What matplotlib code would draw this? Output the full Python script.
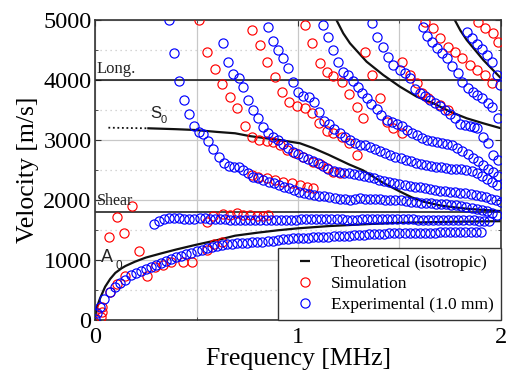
import matplotlib
matplotlib.use("Agg")
import matplotlib.pyplot as plt
from matplotlib.lines import Line2D
from matplotlib.ticker import MultipleLocator

plt.rcParams['font.family'] = ['Liberation Serif', 'DejaVu Serif']

# ---------------- data (frequency MHz, velocity m/s) ----------------
th_a0 = [(0.0,0),(0.005,160),(0.01,225),(0.025,367),(0.05,560),(0.075,690),(0.1,790),(0.131,867),
         (0.15,905),(0.197,977),(0.25,1045),(0.328,1117),(0.4,1180),(0.493,1255),(0.6,1335),
         (0.69,1410),(0.8,1460),(0.9,1500),(1.0,1533),(1.15,1570),(1.355,1605),(1.5,1625),
         (1.75,1642),(2.0,1652)]
th_s0_low = [(0.066,3210),(0.263,3200)]
th_s0 = [(0.263,3200),(0.4,3185),(0.493,3172),(0.6,3140),(0.69,3117),(0.763,3070),(0.85,3030),
         (0.91,3005),(1.01,2950),(1.075,2870),(1.15,2760),(1.25,2600),(1.32,2500),(1.42,2290),
         (1.5,2150),(1.56,2050),(1.62,1975),(1.7,1915),(1.75,1890),(1.83,1860),(1.91,1840),(2.0,1820)]
th_a1 = [(1.19,5000),(1.223,4783),(1.256,4617),(1.338,4310),(1.42,4088),(1.502,3894),(1.585,3727),
         (1.667,3617),(1.749,3477),(1.831,3367),(1.913,3283),(2.0,3200)]
th_a2 = [(1.773,5000),(1.8,4830),(1.831,4672),(1.913,4338),(2.0,4033)]
long_vel = 4000
shear_vel = 1810

exp_a0 = [(0.0,30),(0.012,130),(0.025,230),(0.044,350),(0.074,480),(0.1,560),(0.125,630),(0.15,680),
          (0.175,750),(0.2,795),(0.225,830),(0.25,860),(0.275,890),(0.3,930),(0.325,957),(0.35,990),
          (0.375,1020),(0.4,1048),(0.425,1075),(0.45,1100),(0.475,1126),(0.5,1155),(0.525,1177),
          (0.55,1200),(0.575,1222),(0.6,1238),(0.625,1255),(0.65,1266),(0.675,1276),(0.7,1283),
          (0.725,1290),(0.75,1296),(0.775,1300),(0.8,1306),(0.825,1312),(0.85,1320),(0.875,1330),
          (0.9,1338),(0.925,1348),(0.95,1356),(0.975,1364),(1.0,1370),(1.025,1374),(1.05,1379),
          (1.075,1384),(1.1,1387),(1.125,1391),(1.15,1394),(1.175,1398),(1.2,1403),(1.225,1407),
          (1.25,1412),(1.275,1416),(1.3,1424),(1.325,1428),(1.35,1432),(1.375,1436),(1.4,1440),
          (1.425,1444),(1.45,1447),(1.475,1450),(1.5,1453),(1.525,1455),(1.55,1457),(1.575,1459),
          (1.6,1460),(1.625,1461),(1.65,1462),(1.675,1463),(1.7,1464),(1.725,1465),(1.75,1466),
          (1.775,1466),(1.8,1467),(1.825,1467),(1.85,1467),(1.875,1467),(1.9,1467)]
exp_sh = [(0.292,1600),(0.316,1655),(0.34,1683),(0.365,1700),(0.39,1700),(0.415,1700),(0.44,1690),
          (0.465,1683),(0.49,1695),(0.515,1705),(0.54,1700),(0.565,1695),(0.59,1690),(0.615,1685),
          (0.64,1685),(0.665,1680),(0.69,1678),(0.715,1675),(0.74,1672),(0.765,1672),(0.79,1670),
          (0.815,1668),(0.84,1665),(0.865,1665),(0.89,1668),(0.915,1670),(0.94,1675),(0.965,1678),
          (0.99,1680),(1.015,1682),(1.04,1683),(1.065,1685),(1.09,1686),(1.115,1686),(1.14,1685),
          (1.165,1684),(1.19,1683),(1.215,1682),(1.24,1680),(1.265,1680),(1.29,1680),(1.315,1682),
          (1.34,1684),(1.365,1686),(1.39,1688),(1.415,1690),(1.44,1690),(1.465,1689),(1.49,1688),
          (1.515,1686),(1.54,1684),(1.565,1682),(1.59,1680),(1.615,1678),(1.64,1676),(1.665,1675),
          (1.69,1674),(1.715,1673),(1.74,1672),(1.765,1671),(1.79,1670),(1.815,1668),(1.84,1666),
          (1.865,1664),(1.89,1662),(1.915,1660),(1.94,1658)]
exp_s0 = [(0.365,5000),(0.39,4460),(0.414,3990),(0.437,3680),(0.463,3440),(0.486,3240),(0.512,3145),
          (0.534,3100),(0.557,2995),(0.58,2855),(0.609,2725),(0.636,2625),(0.66,2565),(0.683,2560),
          (0.707,2560),(0.73,2505),(0.755,2450),(0.78,2393),(0.805,2367),(0.83,2338),(0.855,2310),
          (0.88,2283),(0.905,2255),(0.93,2227),(0.955,2202),(0.98,2175),(1.005,2145),(1.03,2125),
          (1.055,2105),(1.08,2090),(1.105,2077),(1.13,2064),(1.155,2052),(1.18,2040),(1.205,2028),
          (1.23,2017),(1.255,2010),(1.28,2030),(1.305,2033),(1.33,2030),(1.355,2027),(1.38,2022),
          (1.405,2018),(1.43,2012),(1.455,2008),(1.48,2003),(1.505,1998),(1.53,1988),(1.555,1978),
          (1.58,1965),(1.605,1955),(1.63,1950),(1.655,1948),(1.68,1945),(1.705,1940),(1.73,1935),
          (1.755,1930),(1.78,1918),(1.805,1905),(1.83,1893),(1.855,1880),(1.88,1862),(1.905,1842),
          (1.93,1815),(1.955,1785),(1.98,1750)]
exp_a1 = [(0.632,4617),(0.657,4300),(0.681,4100),(0.708,4033),(0.731,3883),(0.755,3672),(0.78,3505),
          (0.805,3367),(0.83,3220),(0.854,3117),(0.879,3060),(0.903,3000),(0.928,2935),(0.952,2870),
          (0.977,2810),(1.001,2770),(1.026,2727),(1.05,2695),(1.075,2655),(1.1,2615),(1.125,2565),
          (1.15,2525),(1.175,2495),(1.2,2475),(1.225,2462),(1.25,2448),(1.275,2433),(1.3,2422),
          (1.325,2405),(1.35,2390),(1.375,2365),(1.4,2343),(1.425,2322),(1.45,2303),(1.475,2287),
          (1.5,2272),(1.525,2257),(1.55,2242),(1.575,2228),(1.6,2215),(1.625,2200),(1.65,2186),
          (1.675,2172),(1.7,2161),(1.725,2151),(1.75,2143),(1.775,2134),(1.8,2125),(1.825,2117),
          (1.85,2101),(1.875,2086),(1.9,2068),(1.925,2050),(1.95,2030),(1.975,2005),(2.0,1977)]
exp_m5 = [(0.854,4893),(0.878,4655),(0.903,4505),(0.928,4377),(0.952,4200),(0.977,3977),(1.001,3800),
          (1.026,3743),(1.054,3727),(1.079,3633),(1.105,3477),(1.13,3322),(1.154,3267),(1.179,3190),
          (1.207,3117),(1.232,3060),(1.256,3005),(1.28,2960),(1.305,2930),(1.33,2915),(1.355,2890),
          (1.38,2860),(1.405,2825),(1.43,2790),(1.455,2760),(1.48,2730),(1.505,2700),(1.53,2675),
          (1.555,2650),(1.58,2628),(1.605,2608),(1.63,2590),(1.655,2575),(1.68,2560),(1.705,2548),
          (1.73,2538),(1.755,2530),(1.78,2522),(1.805,2514),(1.83,2505),(1.855,2485),(1.88,2455),
          (1.905,2405),(1.93,2350),(1.955,2300),(1.98,2260)]
exp_m6 = [(1.125,4922),(1.149,4728),(1.174,4505),(1.199,4310),(1.223,4143),(1.248,4088),(1.273,3990),
          (1.297,3894),(1.314,3790),(1.338,3700),(1.362,3610),(1.387,3520),(1.411,3430),(1.437,3338),
          (1.462,3300),(1.486,3270),(1.51,3240),(1.535,3180),(1.56,3130),(1.585,3085),(1.61,3045),
          (1.635,3010),(1.66,2985),(1.685,2970),(1.71,2958),(1.735,2945),(1.76,2920),(1.785,2880),
          (1.81,2830),(1.835,2770),(1.86,2710),(1.885,2650),(1.91,2590),(1.935,2530),(1.96,2470),
          (1.987,2400)]
exp_m7 = [(1.363,4950),(1.388,4728),(1.417,4560),(1.445,4394),(1.47,4255),(1.502,4172),(1.527,4117),
          (1.552,4033),(1.576,3860),(1.6,3790),(1.625,3740),(1.65,3672),(1.675,3630),(1.7,3580),
          (1.724,3505),(1.749,3440),(1.773,3370),(1.798,3280),(1.822,3250),(1.847,3235),(1.866,3215),
          (1.88,3200),(1.913,3060),(1.938,2950),(1.962,2755),(1.987,2672)]
exp_m8 = [(1.617,4893),(1.634,4744),(1.658,4644),(1.683,4533),(1.708,4450),(1.732,4367),(1.76,4244),
          (1.787,4117),(1.81,3977),(1.836,3867),(1.86,3800),(1.882,3750),(1.907,3700),(1.935,3630),
          (1.958,3560),(1.987,3367)]
exp_m9 = [(1.831,4810),(1.857,4700),(1.882,4610),(1.907,4520),(1.93,4420),(1.955,4310),(1.979,4088),
          (1.995,3922)]

sim_a0 = [(0.03,60),(0.033,140),(0.036,230),(0.074,477),(0.11,610),(0.148,740),(0.296,883),
          (0.336,922),(0.372,975),(0.435,967),(0.478,977),(0.55,1172),(0.585,1267),(0.624,1300)]
sim_scatter = [(0.069,1393),(0.107,1727),(0.145,1455),(0.18,1910),(0.217,1155),(0.254,733)]
sim_sh = [(0.55,1643),(0.583,1738),(0.632,1767),(0.665,1755),(0.698,1783),(0.73,1760),(0.763,1755),
          (0.796,1740),(0.829,1745),(0.854,1748)]
sim_s0 = [(0.772,2422),(0.805,2393),(0.846,2367),(0.887,2338),(0.928,2310),(0.969,2283),(1.01,2255),
          (1.043,2227),(1.075,2200)]
sim_m4 = [(0.514,5000),(0.55,4477),(0.591,4183),(0.627,3938),(0.665,3717),(0.701,3533),(0.739,3238),
          (0.772,3050),(0.81,3010),(0.846,2990),(0.878,2977),(0.911,2922),(0.944,2838),(0.985,2783),
          (1.026,2727),(1.075,2643),(1.108,2600),(1.141,2533),(1.174,2477),(1.207,2450)]
sim_m5 = [(0.772,4838),(0.813,4588),(0.846,4310),(0.887,4060),(0.92,3800),(0.957,3633),(0.994,3577),
          (1.034,3533),(1.067,3450),(1.105,3283),(1.141,3150),(1.174,3117),(1.215,3060),(1.253,2950),
          (1.289,2755)]
sim_m6 = [(1.034,4922),(1.067,4617),(1.108,4283),(1.141,4143),(1.174,4072),(1.215,3977),(1.253,3767),
          (1.289,3560),(1.322,3367)]
sim_m7 = [(1.33,4477),(1.363,4088),(1.404,3700),(1.437,3310),(1.47,3200),(1.511,3117)]
sim_m8 = [(1.511,4310),(1.552,4088),(1.585,3950),(1.609,3790),(1.642,3700),(1.7,3588),(1.74,3505)]
sim_m9 = [(1.626,4977),(1.663,4866),(1.7,4700),(1.737,4560),(1.773,4467),(1.806,4367),(1.847,4255),
          (1.88,4172),(1.921,4088),(1.954,3950)]
sim_m10 = [(1.888,4977),(1.921,4866),(1.959,4783),(1.987,4644)]

x_ticks = [0, 1, 2]
y_ticks = [0, 1000, 2000, 3000, 4000, 5000]
legend_labels = ["Theoretical (isotropic)", "Simulation", "Experimental (1.0 mm)"]

# ---------------- figure ----------------
fig = plt.figure(figsize=(5.07, 3.78), dpi=100)
ax = fig.add_axes([95/507, 1-320.3/378, (501-95)/507, (320.3-20.3)/378])

def xy(pairs):
    return [p[0] for p in pairs], [p[1] for p in pairs]

# grid
ax.set_axisbelow(True)
ax.xaxis.set_major_locator(MultipleLocator(1))
ax.xaxis.set_minor_locator(MultipleLocator(0.5))
ax.yaxis.set_major_locator(MultipleLocator(1000))
ax.yaxis.set_minor_locator(MultipleLocator(500))
ax.grid(True, which='major', color='#c8c8c8', lw=0.9, ls='-')
ax.grid(True, which='minor', axis='x', color='#c8c8c8', lw=0.9, ls='-')
ax.grid(True, which='minor', axis='y', color='#c8c8c8', lw=0.9, ls=(0, (1, 3)))

# theoretical lines
lk = dict(color='#111111', lw=1.6, zorder=2)
ax.axhline(long_vel, color='#111111', lw=1.1, zorder=2)
ax.axhline(shear_vel, color='#111111', lw=1.1, zorder=2)
for br in (th_a0, th_s0, th_a1, th_a2):
    ax.plot(*xy(br), **lk)
ax.plot(*xy(th_s0_low), color='#111111', lw=1.3, ls=(0, (1, 1.5)), zorder=2)

mk = dict(ls='none', marker='o', mfc='none', ms=6.6, mew=0.85, zorder=3)
for br in (sim_a0, sim_scatter, sim_sh, sim_s0, sim_m4, sim_m5, sim_m6, sim_m7, sim_m8, sim_m9, sim_m10):
    ax.plot(*xy(br), mec='#ff0000', **mk)
for br in (exp_a0, exp_sh, exp_s0, exp_a1, exp_m5, exp_m6, exp_m7, exp_m8, exp_m9):
    ax.plot(*xy(br), mec='#0000ff', **mk)

ax.set_xlim(0, 2)
ax.set_ylim(0, 5000)
ax.set_xticks(x_ticks)
ax.set_xticklabels([str(t) for t in x_ticks])
ax.set_yticks(y_ticks)
ax.set_yticklabels([str(t) for t in y_ticks])
ax.tick_params(which='both', direction='in', top=True, right=True, labelsize=17.5, color='#333333')
ax.tick_params(axis='x', pad=4.5)
ax.tick_params(axis='y', pad=2.5)
ax.tick_params(which='major', length=4)
ax.tick_params(which='minor', length=2.5)
for s in ax.spines.values():
    s.set_color('#333333')
    s.set_linewidth(1.2)

ax.set_xlabel('Frequency [MHz]', fontsize=18.5, labelpad=0)
ax.set_ylabel('Velocity [m/s]', fontsize=18.5, labelpad=3)

# annotations
ax.text(0.008, long_vel + 60, 'Long.', fontsize=12, color='#222222', va='bottom', ha='left')
ax.text(0.008, shear_vel + 40, 'Shear', fontsize=11.5, color='#222222', va='bottom', ha='left')
ax.text(0.27, 3330, 'S', fontsize=12, family='Liberation Sans', color='#222222', va='bottom', ha='left')
ax.text(0.322, 3250, '0', fontsize=8, family='Liberation Sans', color='#222222', va='bottom', ha='left')
ax.text(0.03, 900, 'A', fontsize=13, family='Liberation Sans', color='#222222', va='bottom', ha='left')
ax.text(0.1, 810, '0', fontsize=8.5, family='Liberation Sans', color='#222222', va='bottom', ha='left')

handles = [Line2D([], [], color='#111111', marker='_', ls='none', ms=7, mew=1.6),
           Line2D([], [], marker='o', ls='none', mfc='none', mec='#ff0000', ms=6.6, mew=0.85),
           Line2D([], [], marker='o', ls='none', mfc='none', mec='#0000ff', ms=6.6, mew=0.85)]
leg = ax.legend(handles, legend_labels, loc='lower right', fontsize=12.5, frameon=True,
                fancybox=False, borderaxespad=0, handlelength=2.3, handletextpad=0.35,
                borderpad=0.4, labelspacing=0.3, framealpha=1)
leg.get_frame().set_edgecolor('#333333')
leg.get_frame().set_linewidth(1.0)

fig.savefig('out.png', dpi=100)
